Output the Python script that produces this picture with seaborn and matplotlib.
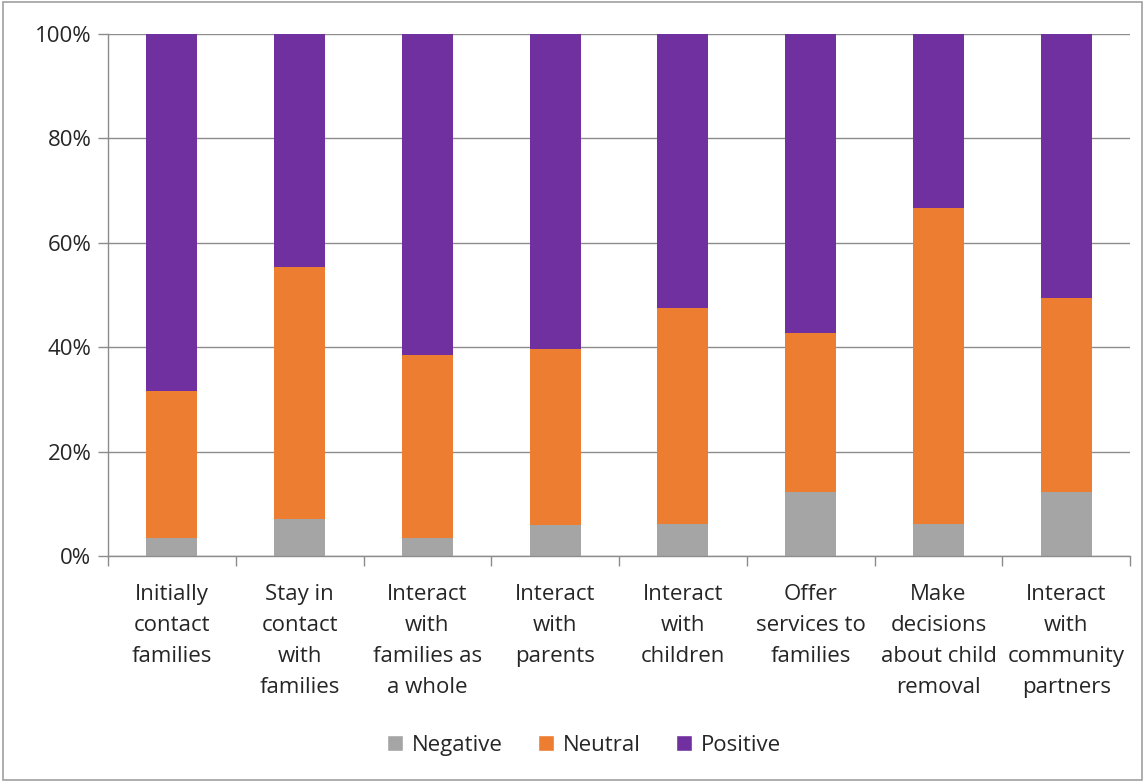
import numpy as np
import pandas as pd
import matplotlib
matplotlib.use("Agg")
import matplotlib.pyplot as plt
import seaborn as sns
from matplotlib.patches import Patch, Rectangle
from matplotlib.ticker import PercentFormatter

categories = ["Initially\ncontact\nfamilies", "Stay in\ncontact\nwith\nfamilies",
              "Interact\nwith\nfamilies as\na whole", "Interact\nwith\nparents",
              "Interact\nwith\nchildren", "Offer\nservices to\nfamilies",
              "Make\ndecisions\nabout child\nremoval", "Interact\nwith\ncommunity\npartners"]
negative = [3.5, 7.0, 3.5, 5.9, 6.1, 12.2, 6.1, 12.3]
neutral = [28.1, 48.4, 35.0, 33.8, 41.5, 30.5, 60.6, 37.1]
positive = [100 - a - b for a, b in zip(negative, neutral)]

colors = {"Negative": "#a5a5a5", "Neutral": "#ed7d31", "Positive": "#7030a0"}

sns.set_style("white")
plt.rcParams['font.family'] = ['Open Sans', 'DejaVu Sans']

df = pd.DataFrame({"cat": categories, "neg": negative, "neu": neutral, "pos": positive})
df["neu_cum"] = df["neg"] + df["neu"]
df["pos_cum"] = df["neu_cum"] + df["pos"]

fig = plt.figure(figsize=(11.45, 7.82), dpi=100)
ax = fig.add_axes([0.0943, 0.289, 0.8927, 0.6675])

for col, name in [("pos_cum", "Positive"), ("neu_cum", "Neutral"), ("neg", "Negative")]:
    sns.barplot(data=df, x="cat", y=col, color=colors[name], width=0.4,
                saturation=1, ax=ax, edgecolor="none", linewidth=0)

ax.set_ylim(0, 100)
ax.set_xlim(-0.5, len(categories) - 0.5)
ax.set_yticks(np.arange(0, 101, 20))
ax.yaxis.set_major_formatter(PercentFormatter(decimals=0))
ax.yaxis.grid(True, color="#8c8c8c", linewidth=1)
ax.set_axisbelow(True)
ax.set_xlabel("")
ax.set_ylabel("")

ax.set_xticks(np.arange(-0.5, len(categories), 1), minor=True)
ax.tick_params(axis="x", which="major", length=0, pad=20, labelsize=16)
ax.tick_params(axis="x", which="minor", length=7, color="#8c8c8c", width=1, direction="out")
ax.tick_params(axis="y", length=7, color="#8c8c8c", width=1, direction="out", labelsize=16, pad=5)
ax.yaxis.set_tick_params(which="major", left=True)
ax.xaxis.set_tick_params(which="minor", bottom=True)
for s in ["top", "right"]:
    ax.spines[s].set_visible(False)
for s in ["left", "bottom"]:
    ax.spines[s].set_color("#8c8c8c")
    ax.spines[s].set_linewidth(1)
for lbl in ax.get_xticklabels():
    lbl.set_verticalalignment("top")
    lbl.set_linespacing(1.62)

handles = [Patch(facecolor=colors[n], label=n) for n in ["Negative", "Neutral", "Positive"]]
fig.legend(handles=handles, loc="center", bbox_to_anchor=(0.51, 0.047), ncol=3,
           frameon=False, fontsize=16, handlelength=0.7, handleheight=0.7,
           handletextpad=0.4, columnspacing=1.6)

fig.patches.append(Rectangle((0.003, 0.003), 0.994, 0.994, transform=fig.transFigure,
                             fill=False, edgecolor="#a0a0a0", linewidth=1.2))

fig.savefig("out.png", dpi=100)
